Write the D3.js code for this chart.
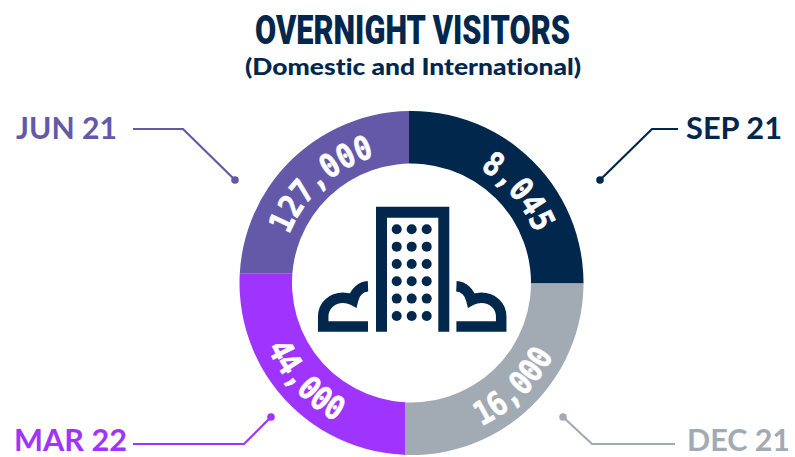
<!DOCTYPE html>
<html><head><meta charset="utf-8">
<script src="https://cdn.jsdelivr.net/npm/d3@7/dist/d3.min.js"></script>
<style>html,body{margin:0;padding:0;background:#fff}svg{display:block}text{font-variant-ligatures:none}</style>
</head><body><svg id="c" width="795" height="457"></svg>
<script>
const periods = ["SEP 21","DEC 21","MAR 22","JUN 21"];
const visitors = [8045,16000,44000,127000];
const sliceDegrees = [91.0,92.0,91.1,85.9];
const colors = ["#01274d","#a2abb3","#a034ff","#6459a8"];
const titleText = "OVERNIGHT VISITORS";
const subtitleText = "(Domestic and International)";
const navy = "#01274d";
const cx = 411.5, cy = 283, R = 172, r = 119.5, startDeg = -0.83;
const toRad = Math.PI/180;
const svg = d3.select("#c");

svg.append("text").attr("x",412.5).attr("y",44).attr("text-anchor","middle")
  .attr("font-family","Roboto").attr("font-weight",900).attr("font-size",41)
  .attr("textLength",315).attr("lengthAdjust","spacingAndGlyphs").attr("fill",navy).text(titleText);
svg.append("text").attr("x",413).attr("y",75).attr("text-anchor","middle")
  .attr("font-family","Lato").attr("font-weight",900).attr("font-size",23)
  .attr("textLength",336).attr("lengthAdjust","spacingAndGlyphs").attr("fill",navy).text(subtitleText);

const pie = d3.pie().sort(null).value(d=>d)
  .startAngle(startDeg*toRad).endAngle((startDeg+360)*toRad);
const arcs = pie(sliceDegrees);
const g = svg.append("g").attr("transform",`translate(${cx},${cy})`);
const defs = svg.append("defs");
// slice seams in the reference are axis-aligned: clip each quadrant at the seam's outer-rim crossing
const seamX = a => R*Math.sin(a), seamY = a => -R*Math.cos(a);
const big = 400, over = 6*toRad;
const arcGen = d3.arc().innerRadius(r).outerRadius(R);
arcs.forEach((a,i)=>{
  let x0=-big,x1=big,y0=-big,y1=big;
  if(i===0){x0=seamX(a.startAngle);y1=seamY(a.endAngle);}
  if(i===1){x0=seamX(a.endAngle);y0=seamY(a.startAngle);}
  if(i===2){x1=seamX(a.startAngle);y0=seamY(a.endAngle);}
  if(i===3){x1=seamX(a.endAngle);y1=seamY(a.startAngle);}
  defs.append("clipPath").attr("id","q"+i).append("rect")
    .attr("x",x0).attr("y",y0).attr("width",x1-x0).attr("height",y1-y0);
});
g.selectAll("path.s").data(arcs).join("path").attr("class","s")
  .attr("d",d=>arcGen({innerRadius:r,outerRadius:R,startAngle:d.startAngle-over,endAngle:d.endAngle+over}))
  .attr("fill",(d,i)=>colors[i]).attr("clip-path",(d,i)=>`url(#q${i})`);

// curved value labels
const fmt = d3.format(",");
const labelMid = [49.5,135.5,227.3,317.6], baseR = [133,159.5,158,131.5], labelLen = [86,103,103,120];
labelMid.forEach((m,i)=>{
  const top = i===0||i===3;
  const rad = baseR[i], a0=(m-55)*toRad, a1=(m+55)*toRad;
  const p=d3.path();
  const ang=t=>t-Math.PI/2;
  if(top){p.moveTo(rad*Math.cos(ang(a0)),rad*Math.sin(ang(a0)));p.arc(0,0,rad,ang(a0),ang(a1),false);}
  else{p.moveTo(rad*Math.cos(ang(a1)),rad*Math.sin(ang(a1)));p.arc(0,0,rad,ang(a1),ang(a0),true);}
  defs.append("path").attr("id","lp"+i).attr("d",p.toString());
  g.append("text").attr("font-family","DejaVu Sans Mono").attr("font-weight",700)
    .attr("font-size",33).attr("fill","#fff").attr("stroke","#fff").attr("stroke-width",0.6).attr("text-anchor","middle")
    .append("textPath").attr("href","#lp"+i).attr("startOffset","50%")
    .attr("textLength",labelLen[i]).attr("lengthAdjust","spacingAndGlyphs").text(fmt(visitors[i]));
});

// leaders and period labels
const leaderPts = [[[678,129],[652,129],[600,180]],[[675,444],[592,444],[563,417]],[[133,444],[244,444],[271,417]],[[133,129],[183,129],[235,180]]];
const labelPos = [[686,139],[687,451],[14,451],[16,139]];
const labelLength = [96,103,113,101];
const line = d3.line();
leaderPts.forEach((pts,i)=>{
  svg.append("path").attr("d",line(pts)).attr("fill","none").attr("stroke",colors[i]).attr("stroke-width",2.2);
  const e=pts[pts.length-1];
  svg.append("circle").attr("cx",e[0]).attr("cy",e[1]).attr("r",3.8).attr("fill",colors[i]);
  svg.append("text").attr("x",labelPos[i][0]).attr("y",labelPos[i][1]).attr("textLength",labelLength[i]).attr("lengthAdjust","spacingAndGlyphs")
    .attr("font-family","Lato").attr("font-weight",700).attr("font-size",30.5).attr("fill",colors[i]).text(periods[i]);
});

// building icon
const icon = svg.append("g");
icon.append("path").attr("d","M381.5 331.7V212.3H443.8V331.7").attr("fill","none").attr("stroke",navy).attr("stroke-width",11);
d3.range(6).forEach(row=>d3.range(3).forEach(col=>{
  icon.append("circle").attr("cx",396.7+15*col).attr("cy",229.3+17.33*row).attr("r",5).attr("fill",navy);
}));
const cloud="M368 326.5H323.2V316.5C323.2 305.5 332 297.8 343 297.8C346.5 297.8 350 298.6 353 300.2C355 292 361 286.6 368 286.3";
[1,-1].forEach(s=>{
  icon.append("path").attr("d",cloud).attr("fill","none").attr("stroke",navy).attr("stroke-width",10.5)
    .attr("transform",s===1?null:"translate(824.4,0) scale(-1,1)");
});
</script></body></html>
